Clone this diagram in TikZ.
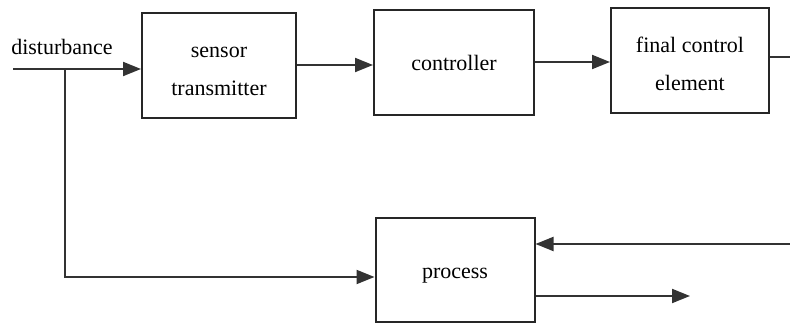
\documentclass[tikz,border=0pt]{standalone}
\usepackage{fontspec}
\setmainfont{Liberation Serif}
\usetikzlibrary{arrows.meta}
\newcommand{\lowr}[2]{\raisebox{-#1}[\height][\depth]{#2}}
\newcommand{\twoln}[2]{\lowr{1.5pt}{\begin{tabular}{@{}c@{}}#1\\#2\end{tabular}}}
\begin{document}
\begin{tikzpicture}[x=0.5pt,y=-0.5pt,
  blk/.style={draw=black!85,line width=1pt,rectangle,inner sep=0pt,align=center,font=\fontsize{11}{19}\selectfont},
  conn/.style={draw=black!80,line width=1pt,-{Triangle[length=9pt,width=7pt]}},
  wire/.style={draw=black!80,line width=1pt}]
\useasboundingbox (0,0) rectangle (790,324);
\node[blk,minimum width=77pt,minimum height=52.5pt] (sensor) at (219,65.5) {\twoln{sensor}{transmitter}};
\node[blk,minimum width=80pt,minimum height=52.5pt] (ctrl) at (454,62.5) {controller};
\node[blk,minimum width=79pt,minimum height=52.5pt] (fce) at (690,60.5) {\twoln{final control}{element}};
\node[blk,minimum width=79.5pt,minimum height=52pt] (proc) at (455,270.5) {\lowr{2.5pt}{process}};
\node[font=\fontsize{11}{13}\selectfont,anchor=center] (dist) at (62,47) {disturbance};
\coordinate (din) at (13,69);
\coordinate (br) at (65,69);
\coordinate (bl) at (65,277);
\coordinate (rtop) at (790,57);
\coordinate (rbot) at (790,244);
\coordinate (out) at (690,296);
\draw[conn] (din) -- (sensor.west |- din);
\draw[conn] (sensor.east |- 0,65) -- (ctrl.west |- 0,65);
\draw[conn] (ctrl.east |- 0,62) -- (fce.west |- 0,62);
\draw[wire] (fce.east |- rtop) -- (rtop);
\draw[conn] (rbot) -- (proc.east |- rbot);
\draw[conn] (br) -- (bl) -- (proc.west |- bl);
\draw[conn] (proc.east |- out) -- (out);
\end{tikzpicture}
\end{document}
